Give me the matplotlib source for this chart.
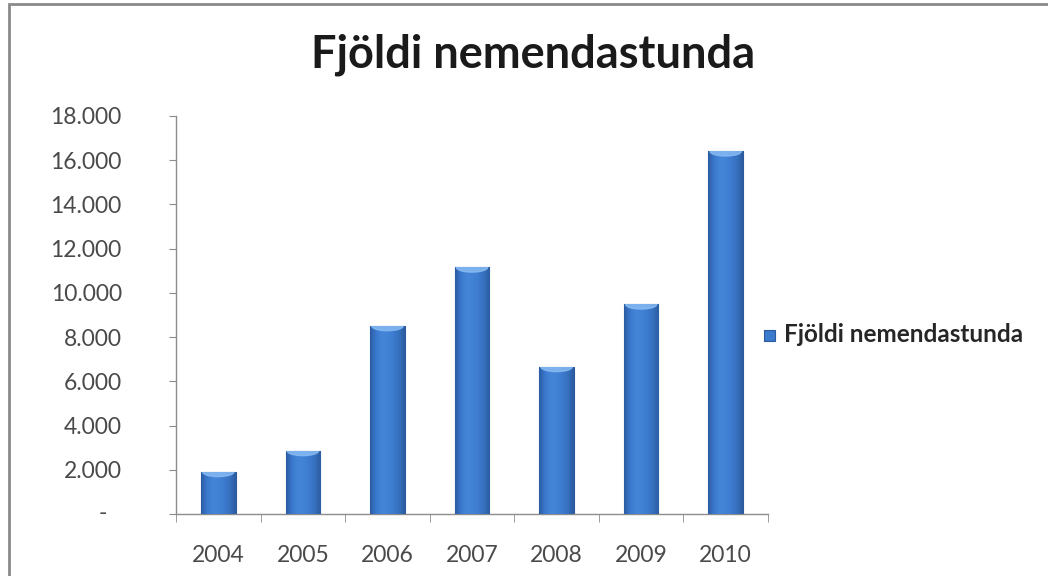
import numpy as np
import matplotlib
matplotlib.use("Agg")
import matplotlib.pyplot as plt
from matplotlib.patches import Rectangle, Ellipse
from matplotlib.colors import LinearSegmentedColormap

# Data
years = ["2004", "2005", "2006", "2007", "2008", "2009", "2010"]
hours = [1900, 2850, 8500, 11150, 6650, 9480, 16400]
y_ticks = [0, 2000, 4000, 6000, 8000, 10000, 12000, 14000, 16000, 18000]
title = "Fjöldi nemendastunda"
series_name = "Fjöldi nemendastunda"

plt.rcParams["font.family"] = ["Lato", "DejaVu Sans"]

fig = plt.figure(figsize=(10.48, 5.76), dpi=100)
ax = fig.add_axes([176 / 1048, 1 - 514 / 576, (768 - 176) / 1048, (514 - 116) / 576])

x = np.arange(len(years))
bars = ax.bar(x, hours, width=0.41, color="#3b7acd", edgecolor="#2c5a9c", linewidth=0.8, zorder=2)

# Cylinder-like shading on each bar, darker edges and a lighter middle
shade = LinearSegmentedColormap.from_list(
    "cyl", ["#2b5ba0", "#3a78cc", "#4585d8", "#4383d6", "#3d7bcf", "#3670bd", "#2b5ba0"])
grad = np.linspace(0, 1, 256).reshape(1, -1)
for rect in bars:
    bx, bw, bh = rect.get_x(), rect.get_width(), rect.get_height()
    im = ax.imshow(grad, cmap=shade, aspect="auto", extent=[bx, bx + bw, 0, bh],
                   zorder=3, interpolation="bicubic")
    im.set_clip_path(rect)
    cap = Ellipse((bx + bw / 2, bh), bw * 0.9, 420, color="#86baf3", alpha=0.85, zorder=4)
    ax.add_patch(cap)
    cap.set_clip_path(rect)

ax.set_xlim(-0.5, len(years) - 0.5)
ax.set_ylim(0, 18000)

for side in ["top", "right"]:
    ax.spines[side].set_visible(False)
for side in ["left", "bottom"]:
    ax.spines[side].set_color("#8c8c8c")
    ax.spines[side].set_linewidth(1.0)

ax.set_yticks(y_ticks)
ax.set_yticklabels([f"{v:,}".replace(",", ".") if v else "" for v in y_ticks])
ax.tick_params(axis="y", length=5, color="#8c8c8c", pad=34, labelsize=16.5, labelcolor="#4a4a4a")
ax.text(-0.5 - 69 / 84.6, 0, "-", ha="right", va="center", fontsize=16.5, color="#4a4a4a")

ax.set_xticks(x)
ax.set_xticklabels(years)
ax.tick_params(axis="x", length=0, pad=22, labelsize=16.5, labelcolor="#4a4a4a")
ax.set_xticks(np.arange(-0.5, len(years)), minor=True)
ax.tick_params(axis="x", which="minor", length=6, color="#8c8c8c")

fig.text(533 / 1048, 1 - 55 / 576, title, ha="center", va="center", fontsize=32.5,
         fontweight="bold", color="#1a1a1a")

# Legend drawn by hand to match the Excel placement
fig.patches.append(Rectangle((764 / 1048, 1 - 341 / 576), 11 / 1048, 11 / 576,
                             transform=fig.transFigure, facecolor="#3b7acd",
                             edgecolor="#2c5a9c", linewidth=0.8))
fig.text(784 / 1048, 1 - 335 / 576, series_name, ha="left", va="center", fontsize=17.5,
         fontweight="bold", color="#262626")

# Chart frame
fig.patches.append(Rectangle((9 / 1048, -0.02), 1.05, 1 - 4 / 576 + 0.02, transform=fig.transFigure,
                             fill=False, edgecolor="#8a8a8a", linewidth=2))

fig.savefig("out.png", dpi=100)
